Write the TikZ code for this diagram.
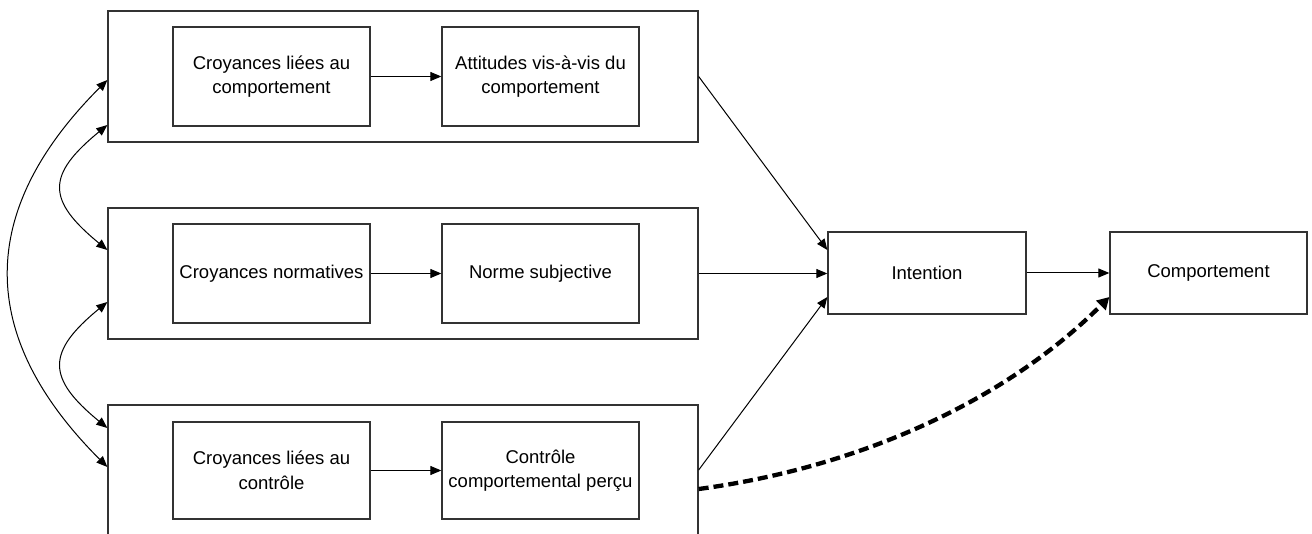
\documentclass[tikz,border=0pt]{standalone}
\usepackage{fontspec}
\setmainfont{Liberation Sans}
\usetikzlibrary{arrows.meta}
\begin{document}
\begin{tikzpicture}[x=1pt,y=-1pt,
  outerbox/.style={draw=black!80,line width=1.3pt,minimum width=590pt,inner sep=0pt},
  innerbox/.style={draw=black!80,line width=1.3pt,minimum width=197pt,minimum height=99pt,inner sep=0pt,align=center,font=\fontsize{18.5}{24.5}\selectfont},
  arr/.style={draw=black,line width=1pt,-{Triangle[length=11pt,width=9pt]}},
  dblarr/.style={draw=black,line width=1pt,{Triangle[length=11pt,width=9pt]}-{Triangle[length=11pt,width=9pt]}},
  dasharr/.style={draw=black,line width=4.3pt,dash pattern=on 10pt off 5pt,-{Triangle[length=12pt,width=13pt]}}]
\useasboundingbox (0,0) rectangle (1312,534);
\clip (0,0) rectangle (1312,534);
% outer boxes
\node[outerbox,minimum height=131pt] (top) at (403,76.5) {};
\node[outerbox,minimum height=131pt] (mid) at (403,273.5) {};
\node[outerbox,minimum height=134pt] (bot) at (403,472) {};
% inner boxes
\node[innerbox] (cb) at (271.5,76.5) {Croyances liées au\\comportement};
\node[innerbox] (att) at (540.5,76.5) {Attitudes vis-à-vis du\\comportement};
\node[innerbox] (cn) at (271.5,273.5) {Croyances normatives};
\node[innerbox] (ns) at (540.5,273.5) {Norme subjective};
\node[innerbox,minimum height=97pt] (cc) at (271.5,470.5) {Croyances liées au\\contrôle};
\node[innerbox,minimum height=97pt] (ccp) at (540.5,470.5) {Contrôle\\comportemental perçu};
\node[innerbox,minimum width=198pt,minimum height=82pt] (int) at (927,273) {Intention};
\node[innerbox,minimum height=82pt] (comp) at (1208.5,273) {Comportement};
% inner arrows
\draw[arr] (cb) -- (att);
\draw[arr] (cn) -- (ns);
\draw[arr] (cc) -- (ccp);
% left correlations
\draw[dblarr] ([yshift=-3.5pt]top.west) .. controls +(-131,131) and +(-131,-131) .. ([yshift=5pt]bot.west);
\draw[dblarr] ([yshift=-48.5pt]top.west) .. controls +(-61,50) and +(-61,-50) .. ([yshift=23.5pt]mid.west);
\draw[dblarr] ([yshift=-28.5pt]mid.west) .. controls +(-61,50) and +(-61,-50) .. ([yshift=44pt]bot.west);
% to intention
\draw[arr] (top.east) -- ([yshift=23pt]int.west);
\draw[arr] (mid.east) -- (mid.east -| int.west);
\draw[arr] ([yshift=2pt]bot.east) -- ([yshift=-24pt]int.west);
\draw[arr] (int) -- (comp);
\draw[dasharr] ([yshift=-17pt]bot.east) .. controls +(150,-20) and +(-110,110) .. ([yshift=-24pt]comp.west);
\end{tikzpicture}
\end{document}
